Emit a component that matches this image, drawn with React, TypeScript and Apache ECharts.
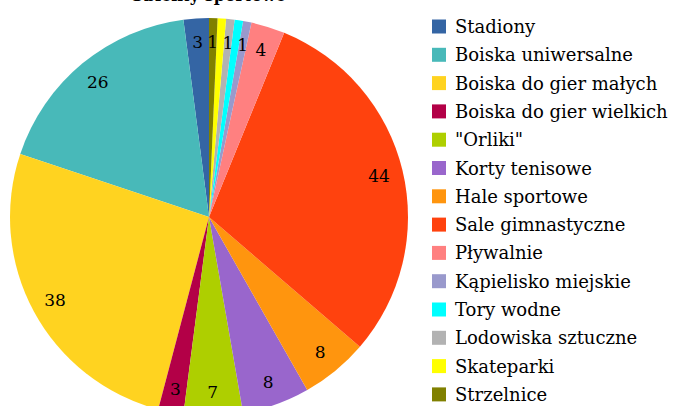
import React, { useEffect, useRef } from "react";
import * as echarts from "echarts";

const categories = [
  "Stadiony",
  "Boiska uniwersalne",
  "Boiska do gier małych",
  "Boiska do gier wielkich",
  "\"Orliki\"",
  "Korty tenisowe",
  "Hale sportowe",
  "Sale gimnastyczne",
  "Pływalnie",
  "Kąpielisko miejskie",
  "Tory wodne",
  "Lodowiska sztuczne",
  "Skateparki",
  "Strzelnice",
];
const values = [3, 26, 38, 3, 7, 8, 8, 44, 4, 1, 1, 1, 1, 1];
const colors = [
  "#3465a4",
  "#48b9b9",
  "#ffd320",
  "#b30047",
  "#aecf00",
  "#9966cc",
  "#ff950e",
  "#ff420e",
  "#ff8080",
  "#9999cc",
  "#00ffff",
  "#b2b2b2",
  "#ffff00",
  "#808000",
];
const titleText = "Obiekty sportowe";

const FONT = "DejaVu Serif";

export default function App() {
  const ref = useRef<HTMLDivElement>(null);
  useEffect(() => {
    if (!ref.current) return;
    const chart = echarts.init(ref.current, undefined, { renderer: "svg" });
    const data = categories.map((name, i) => ({
      name,
      value: values[i],
      itemStyle: { color: colors[i] },
    }));
    const labelData = categories.map((name, i) => ({
      name,
      value: values[i],
    }));
    chart.setOption({
      animation: false,
      backgroundColor: "#ffffff",
      textStyle: { fontFamily: FONT },
      graphic: [
        {
          type: "text",
          x: 208,
          y: -5,
          style: {
            text: titleText,
            align: "center",
            verticalAlign: "middle",
            fontFamily: FONT,
            fontWeight: "bold",
            fontSize: 16,
            fill: "#000",
          },
        },
      ],
      legend: {
        orient: "vertical",
        left: 432,
        top: 15.5,
        height: 400,
        padding: 0,
        icon: "rect",
        itemWidth: 14,
        itemHeight: 14,
        itemGap: 6.3,
        selectedMode: false,
        data: categories.map((name, i) => ({ name, itemStyle: { color: colors[i] } })),
        textStyle: {
          fontFamily: FONT,
          fontSize: 18,
          lineHeight: 22,
          color: "#000",
          padding: [0, 0, 0, 4],
        },
      },
      series: [
        {
          type: "pie",
          center: [209, 217],
          radius: [0, 199],
          startAngle: 90,
          clockwise: false,
          silent: true,
          label: { show: false },
          labelLine: { show: false },
          data,
        },
        {
          type: "pie",
          center: [209, 217],
          radius: [145, 199],
          startAngle: 90,
          clockwise: false,
          silent: true,
          itemStyle: { color: "rgba(0,0,0,0)" },
          label: {
            show: true,
            position: "inside",
            formatter: "{c}",
            fontFamily: FONT,
            fontSize: 17,
            color: "#000",
          },
          labelLine: { show: false },
          data: labelData,
        },
      ],
    });
    return () => chart.dispose();
  }, []);
  return (
    <div
      ref={ref}
      style={{ position: "fixed", left: 0, top: 0, width: 673, height: 406 }}
    />
  );
}
